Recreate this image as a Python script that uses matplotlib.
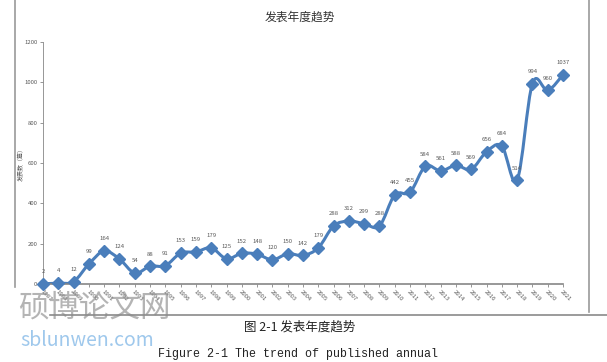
import numpy as np
import matplotlib

matplotlib.use("Agg")

import matplotlib.pyplot as plt  # noqa: E402
from matplotlib.path import Path  # noqa: E402
from matplotlib.patches import PathPatch  # noqa: E402

plt.rcParams["font.family"] = ["Noto Sans CJK SC", "DejaVu Sans"]

years = list(range(1987, 2022))
counts = [2, 4, 12, 99, 164, 124, 54, 88, 91, 153, 159, 179, 125, 152, 148,
          120, 150, 142, 179, 288, 312, 299, 288, 442, 455, 584, 561, 588,
          569, 656, 684, 514, 994, 960, 1037]
y_ticks = [0, 200, 400, 600, 800, 1000, 1200]

BLUE = "#4A7EBB"
GRAY = "#595959"


def smooth_path(x, y, tension=1 / 6):
    # Catmull-Rom style bezier, like the "smoothed line" option in Excel
    x = np.asarray(x, float)
    y = np.asarray(y, float)
    verts = [(x[0], y[0])]
    codes = [Path.MOVETO]
    n = len(x)
    for i in range(n - 1):
        p0 = i - 1 if i > 0 else i
        p3 = i + 2 if i + 2 < n else i + 1
        c1 = (x[i] + (x[i + 1] - x[p0]) * tension,
              y[i] + (y[i + 1] - y[p0]) * tension)
        c2 = (x[i + 1] - (x[p3] - x[i]) * tension,
              y[i + 1] - (y[p3] - y[i]) * tension)
        verts += [c1, c2, (x[i + 1], y[i + 1])]
        codes += [Path.CURVE4] * 3
    return Path(verts, codes)


fig = plt.figure(figsize=(6.07, 3.62), dpi=100)
ax = fig.add_axes([43 / 607, 1 - 284 / 362, (563 - 43) / 607, (284 - 42) / 362])

ax.add_patch(PathPatch(smooth_path(years, counts), fill=False,
                       edgecolor=BLUE, lw=2.2, zorder=2))
ax.plot(years, counts, ls="none", marker="D", ms=6, color=BLUE,
        mec=BLUE, zorder=3, clip_on=False)
for yr, c in zip(years, counts):
    ax.annotate(str(c), (yr, c), xytext=(0, 7), textcoords="offset points",
                ha="center", va="bottom", fontsize=4.3, color=GRAY)

ax.set_xlim(years[0], years[-1])
ax.set_ylim(0, 1200)
ax.set_yticks(y_ticks)
ax.set_yticklabels([str(t) for t in y_ticks], fontsize=4.3, color=GRAY)
ax.set_xticks(years)
ax.set_xticklabels([str(yr) for yr in years], rotation=-45, ha="left",
                   rotation_mode="anchor", fontsize=4.3, color=GRAY)
ax.tick_params(axis="both", length=2, width=0.6, color="#868686", pad=2)
for side in ("top", "right"):
    ax.spines[side].set_visible(False)
ax.spines["left"].set_color("#868686")
ax.spines["left"].set_linewidth(0.6)
ax.spines["bottom"].set_color("#868686")
ax.spines["bottom"].set_linewidth(1.2)
ax.set_ylabel("发表数（篇）", fontsize=4.3, color=GRAY, labelpad=2)
ax.yaxis.set_label_coords(-0.036, 0.5)

fig.text(300 / 607, 1 - 17 / 362, "发表年度趋势", ha="center", va="center",
         fontsize=8.5, color="#333333")

# chart frame and page rule
fig.add_artist(plt.Line2D([15 / 607, 15 / 607], [1 - 287 / 362, 1.0],
                          color="#9a9a9a", lw=1.2))
fig.add_artist(plt.Line2D([589 / 607, 589 / 607], [1 - 312 / 362, 1.0],
                          color="#9a9a9a", lw=1.2))
fig.add_artist(plt.Line2D([50 / 607, 607 / 607], [1 - 315 / 362, 1 - 315 / 362],
                          color="#8a8a8a", lw=1.2))

# watermark
fig.text(18 / 607, 1 - 308 / 362, "硕博论文网", ha="left", va="center",
         fontsize=22, color="#8c8c8c", alpha=0.65)
fig.text(20 / 607, 1 - 341 / 362, "sblunwen.com", ha="left", va="center",
         fontsize=14, color="#7fb6e6", alpha=0.75)

fig.text(300 / 607, 1 - 327 / 362, "图 2-1 发表年度趋势", ha="center",
         va="center", fontsize=9, color="#222222")
fig.text(158 / 607, 1 - 354 / 362, "Figure 2-1 The trend of published annual",
         ha="left", va="center", fontsize=8.4, color="#222222",
         family=["Liberation Mono", "DejaVu Sans Mono"])

fig.savefig("out.png", dpi=100)
